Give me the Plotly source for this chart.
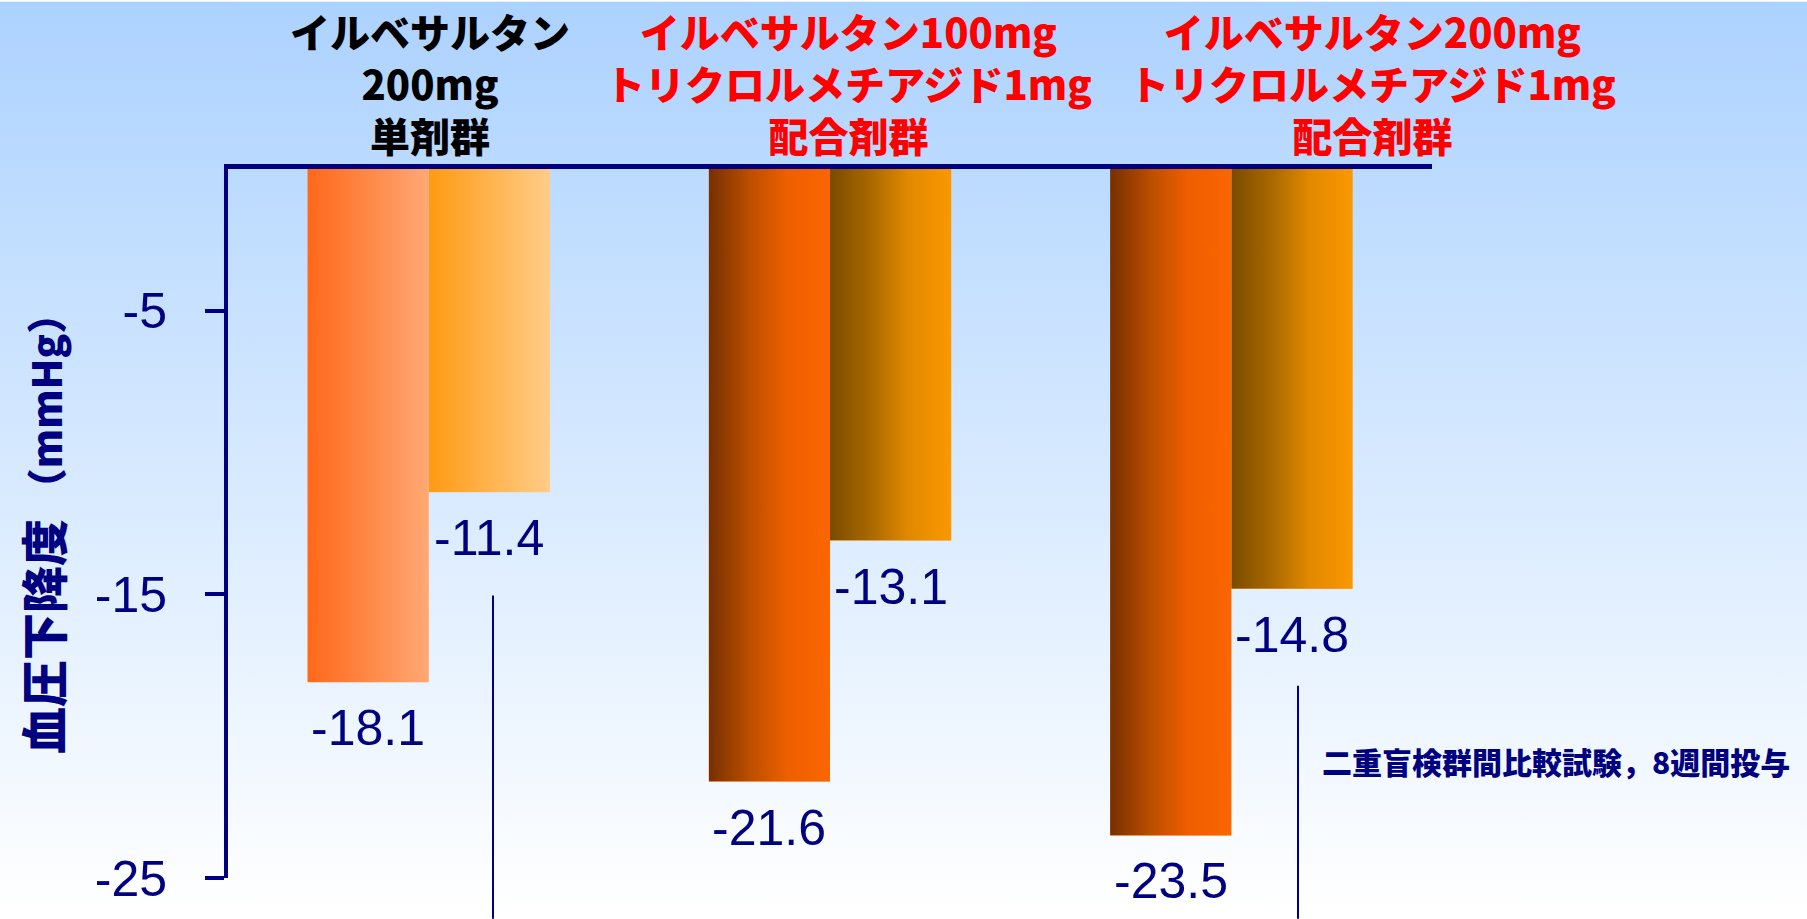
import base64
import plotly.graph_objects as go

# ---------------- data ----------------
group_titles = [
    ["イルベサルタン", "200mg", "単剤群"],
    ["イルベサルタン100mg", "トリクロルメチアジド1mg", "配合剤群"],
    ["イルベサルタン200mg", "トリクロルメチアジド1mg", "配合剤群"],
]
series_a = [-18.1, -21.6, -23.5]
series_b = [-11.4, -13.1, -14.8]
label_a = ["-18.1", "-21.6", "-23.5"]
label_b = ["-11.4", "-13.1", "-14.8"]
tick_vals = [-5, -15, -25]
tick_text = ["-5", "-15", "-25"]
y_title_main = "血圧下降度"
y_title_unit = "（mmHg）"
note_text = "二重盲検群間比較試験，8週間投与"

# ---------------- layout constants ----------------
W, H = 1807, 919
ML, MR, MT, MB = 228, 375, 169, 35
PW, PH = W - ML - MR, H - MT - MB
NAVY = "#000080"
BAR_W = 0.302
title_colors = ["#000000", "#FF0000", "#FF0000"]
title_x_px = [430, 848, 1372]
title_center_y_px = 82

grad_a = [
    [(0, "#FF681A"), (1, "#FFA874")],
    [(0, "#763000"), (0.35, "#BE4F00"), (0.65, "#EE5F00"), (1, "#FA6600")],
    [(0, "#763000"), (0.35, "#BE4F00"), (0.65, "#EE5F00"), (1, "#FA6600")],
]
grad_b = [
    [(0, "#FF9A12"), (1, "#FFCC88")],
    [(0, "#7A4B00"), (0.35, "#AC6A00"), (0.65, "#E28900"), (1, "#FA9800")],
    [(0, "#7A4B00"), (0.35, "#AC6A00"), (0.65, "#E28900"), (1, "#FA9800")],
]
bg_grad = [(0, "#ACD2FF"), (1, "#FFFFFF")]


def svg_grad(stops, vertical=False):
    x2, y2 = ("0", "1") if vertical else ("1", "0")
    st = "".join(f'<stop offset="{o}" stop-color="{c}"/>' for o, c in stops)
    svg = ('<svg xmlns="http://www.w3.org/2000/svg" width="100" height="100" '
           'viewBox="0 0 100 100" preserveAspectRatio="none"><defs>'
           f'<linearGradient id="g" x1="0" y1="0" x2="{x2}" y2="{y2}">{st}</linearGradient>'
           '</defs><rect width="100" height="100" fill="url(#g)"/></svg>')
    return "data:image/svg+xml;base64," + base64.b64encode(svg.encode()).decode()


def px_x(px):
    return (px - ML) / PW


def px_y(py):
    return (H - MB - py) / PH


idx = list(range(len(group_titles)))

fig = go.Figure()
fig.add_trace(go.Bar(x=idx, y=series_a, offset=-BAR_W, width=BAR_W,
                     marker=dict(color=[g[-1][1] for g in grad_a], line=dict(width=0)),
                     hoverinfo="skip", showlegend=False))
fig.add_trace(go.Bar(x=idx, y=series_b, offset=0, width=BAR_W,
                     marker=dict(color=[g[-1][1] for g in grad_b], line=dict(width=0)),
                     hoverinfo="skip", showlegend=False))

images = [dict(source=svg_grad(bg_grad, vertical=True), xref="paper", yref="paper",
               x=px_x(0), y=px_y(0), sizex=W / PW, sizey=H / PH,
               xanchor="left", yanchor="top", sizing="stretch", layer="below")]
annotations = []
for i in idx:
    for off, val, grad, lab in ((-BAR_W, series_a[i], grad_a[i], label_a[i]),
                                (0, series_b[i], grad_b[i], label_b[i])):
        images.append(dict(source=svg_grad(grad), xref="x", yref="y",
                           x=i + off, y=0, sizex=BAR_W, sizey=abs(val),
                           xanchor="left", yanchor="top", sizing="stretch", layer="above"))
        annotations.append(dict(x=i + off + BAR_W / 2, y=val, xref="x", yref="y",
                                text=lab, showarrow=False, yanchor="middle", yshift=-46,
                                font=dict(family="Arial, Liberation Sans", size=50, color=NAVY)))
    annotations.append(dict(x=px_x(title_x_px[i]), y=px_y(title_center_y_px),
                            xref="paper", yref="paper", text="<br>".join(group_titles[i]),
                            showarrow=False, xanchor="center", yanchor="middle",
                            align="center",
                            font=dict(family="Noto Sans CJK JP", size=40, weight=900,
                                      color=title_colors[i])))

annotations.append(dict(x=px_x(42), y=px_y(527), xref="paper", yref="paper",
                        text=f"{y_title_main} <span style='font-size:40px'>{y_title_unit}</span>",
                        textangle=-90, showarrow=False,
                        xanchor="center", yanchor="middle",
                        font=dict(family="Noto Sans CJK JP", size=47, weight=900, color=NAVY)))
annotations.append(dict(x=px_x(1320), y=px_y(766), xref="paper", yref="paper",
                        text=note_text, showarrow=False, xanchor="left", yanchor="middle",
                        font=dict(family="Noto Sans CJK JP", size=30, weight=900, color=NAVY)))

shapes = [
    dict(type="line", xref="paper", yref="paper", x0=px_x(493), x1=px_x(493),
         y0=px_y(599), y1=px_y(925), line=dict(color=NAVY, width=2)),
    dict(type="line", xref="paper", yref="paper", x0=px_x(1298), x1=px_x(1298),
         y0=px_y(690), y1=px_y(925), line=dict(color=NAVY, width=2)),
]

fig.update_layout(
    width=W, height=H, autosize=False,
    margin=dict(l=ML, r=MR, t=MT, b=MB, pad=0),
    paper_bgcolor="#FFFFFF", plot_bgcolor="rgba(0,0,0,0)",
    barmode="overlay", showlegend=False, hovermode=False,
    images=images, annotations=annotations, shapes=shapes,
    xaxis=dict(range=[-0.5, len(idx) - 0.5], side="top", showline=True, linewidth=5,
               linecolor=NAVY, showticklabels=False, ticks="", showgrid=False,
               zeroline=False, fixedrange=True),
    yaxis=dict(range=[-25, 0], tickvals=tick_vals, ticktext=tick_text, ticks="outside",
               ticklen=19, tickwidth=4, tickcolor=NAVY, showline=True, linewidth=4,
               linecolor=NAVY, showgrid=False, zeroline=False, ticklabelstandoff=28,
               tickfont=dict(family="Arial, Liberation Sans", size=50, color=NAVY),
               fixedrange=True),
)

fig.write_html("out.html", config={"displayModeBar": False},
               post_script="document.body.style.margin='0';document.body.style.overflow='hidden';")
